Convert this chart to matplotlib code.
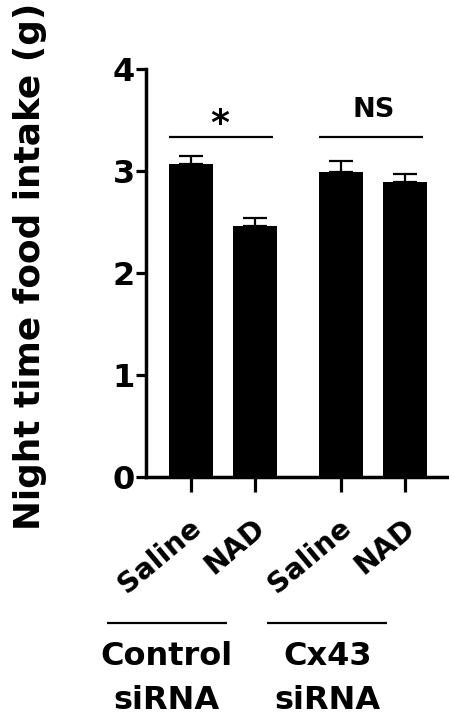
import numpy as np
import matplotlib
matplotlib.use('Agg')
import matplotlib.pyplot as plt
from matplotlib.transforms import ScaledTranslation, blended_transform_factory

# values
treatments = ['Saline', 'NAD', 'Saline', 'NAD']
groups = ['Control\nsiRNA', 'Cx43\nsiRNA']
intake = [3.07, 2.46, 2.99, 2.89]
sem = [0.08, 0.08, 0.11, 0.08]
sig_labels = ['*', 'NS']
yticks = [0, 1, 2, 3, 4]

plt.rcParams['font.family'] = ['DejaVu Sans']
plt.rcParams['font.weight'] = 'bold'


def main():

    fig = plt.figure(figsize=(4.49, 7.27), dpi=100)
    ax = fig.add_axes([0.325, 0.3439, 0.670, 0.5612])

    # bar centres, the groups have a wider gap between them
    pos = np.array([0, 1, 2.35, 3.35])
    w = 0.69

    ax.bar(pos, intake, width=w, color='black', zorder=2)
    ax.errorbar(pos, intake, yerr=[np.zeros(len(sem)), sem], fmt='none',
                ecolor='black', elinewidth=1.6, capsize=8.3, capthick=1.6, zorder=1)

    ax.set_xlim(-0.703, 4.0)
    ax.set_ylim(0, 4)
    ax.set_yticks(yticks)
    ax.set_yticklabels([str(t) for t in yticks], fontsize=23, fontweight='bold')

    for side in ['top', 'right']:
        ax.spines[side].set_visible(False)
    for side in ['left', 'bottom']:
        ax.spines[side].set_linewidth(2.5)

    ax.tick_params(axis='y', length=7, width=2.3, pad=1)
    ax.tick_params(axis='x', length=11, width=2.3, pad=23)

    ax.set_xticks(pos)
    ax.set_xticklabels(treatments, rotation=40, ha='right', va='center',
                       rotation_mode='anchor', fontsize=20.5, fontweight='bold')
    shift = ScaledTranslation(0.065, 0, fig.dpi_scale_trans)
    for lab in ax.get_xticklabels():
        lab.set_transform(lab.get_transform() + shift)

    # significance bars
    sig_y = 3.33
    for i, lab in enumerate(sig_labels):
        a, b = pos[2 * i], pos[2 * i + 1]
        ax.plot([a - w / 2, b + w / 2 - 0.06], [sig_y, sig_y], color='black', lw=1.6,
                solid_capstyle='butt')
        if lab == '*':
            ax.text((a + b) / 2 - 0.05, 3.46, lab, ha='center', va='center',
                    fontsize=26, fontweight='bold')
        else:
            ax.text((a + b) / 2 + 0.01, 3.60, lab, ha='center', va='center',
                    fontsize=19.5, fontweight='bold')

    # group labels under the treatment names
    trans = blended_transform_factory(ax.transData, ax.transAxes)
    for i, g in enumerate(groups):
        a, b = pos[2 * i], pos[2 * i + 1]
        left = a - 1.31 if i == 0 else a - 1.16
        right = b - 0.44 if i == 0 else b - 0.28
        ax.plot([left, right], [-0.358, -0.358], color='black', lw=1.6,
                transform=trans, clip_on=False, solid_capstyle='butt')
        ax.text((left + right) / 2, -0.402, g, ha='center', va='top', transform=trans,
                fontsize=23, fontweight='bold', linespacing=1.55, multialignment='center')

    fig.text(30 / 449, 1 - 266 / 727, 'Night time food intake (g)', rotation=90,
             ha='center', va='center', fontsize=25.8, fontweight='bold')

    fig.savefig('out.png', dpi=100)


if __name__ == '__main__':
    main()
